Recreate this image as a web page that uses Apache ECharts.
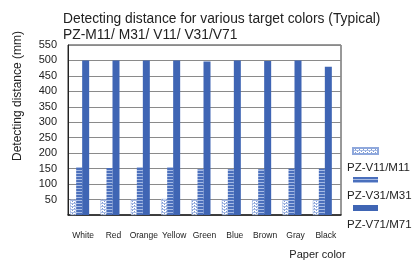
<!DOCTYPE html>
<html>
<head>
<meta charset="utf-8">
<script src="https://cdn.jsdelivr.net/npm/echarts@6/dist/echarts.min.js"></script>
<style>
html, body { margin: 0; padding: 0; background: #fff; }
#chart { width: 415px; height: 265px; }
</style>
</head>
<body>
<div id="chart"></div>
<script>
// paper colours
var categories = ['White', 'Red', 'Orange', 'Yellow', 'Green', 'Blue', 'Brown', 'Gray', 'Black'];
var seriesNames = ['PZ-V11/M11', 'PZ-V31/M31', 'PZ-V71/M71'];
// detecting distance (mm)
var v11 = [50, 50, 50, 52, 50, 50, 50, 48, 48];
var v31 = [155, 152, 155, 155, 148, 148, 148, 150, 150];
var v71 = [500, 500, 500, 500, 497, 500, 498, 500, 480];

var blue = '#3f65b4';
var font = 'Liberation Sans, Arial, sans-serif';

// dotted pattern for V11
function dotPattern() {
	var c = document.createElement('canvas');
	c.width = 4; c.height = 3;
	var ctx = c.getContext('2d');
	ctx.fillStyle = '#ffffff';
	ctx.fillRect(0, 0, 4, 3);
	ctx.fillStyle = '#7d9ad4';
	ctx.fillRect(0, 0, 1, 1);
	ctx.fillRect(2, 1, 1, 1);
	ctx.fillStyle = '#a9bce4';
	ctx.fillRect(0, 2, 4, 1);
	return c;
}

// striped pattern for V31
function stripePattern() {
	var c = document.createElement('canvas');
	c.width = 4; c.height = 3;
	var ctx = c.getContext('2d');
	ctx.fillStyle = '#4a6fbc';
	ctx.fillRect(0, 0, 4, 3);
	ctx.fillStyle = '#a7bbe4';
	ctx.fillRect(0, 2, 4, 1);
	return c;
}

var dotFill = { image: dotPattern(), repeat: 'repeat' };
var stripeFill = { image: stripePattern(), repeat: 'repeat' };

var chart = echarts.init(document.getElementById('chart'), null, { renderer: 'canvas' });

chart.setOption({
	animation: false,
	title: {
		text: 'Detecting distance for various target colors (Typical)\nPZ-M11/ M31/ V11/ V31/V71',
		left: 58,
		top: 6,
		textStyle: { fontFamily: font, fontSize: 13.8, fontWeight: 'normal', color: '#222', lineHeight: 16 }
	},
	grid: {
		left: 68, right: 74, top: 45, bottom: 36,
		show: true, borderColor: '#333', borderWidth: 1
	},
	legend: {
		orient: 'vertical',
		left: 347,
		top: 142,
		itemWidth: 25,
		itemHeight: 6,
		itemGap: 22,
		icon: 'rect',
		data: seriesNames,
		formatter: function () { return ''; },
		textStyle: { fontSize: 1, lineHeight: 6 }
	},
	xAxis: {
		type: 'category',
		data: categories,
		name: 'Paper color',
		nameLocation: 'middle',
		nameGap: 34,
		nameTextStyle: { fontFamily: font, fontSize: 11, color: '#222', padding: [0, 0, 0, 226] },
		axisLine: { lineStyle: { color: '#222', width: 1.5 } },
		axisTick: { inside: true, length: 3, lineStyle: { color: '#222' } },
		axisLabel: { interval: 0, fontFamily: font, fontSize: 8.5, color: '#222', margin: 16 }
	},
	yAxis: {
		type: 'value',
		min: 0,
		max: 550,
		interval: 50,
		name: 'Detecting distance (mm)',
		nameLocation: 'middle',
		nameGap: 44,
		nameTextStyle: { fontFamily: font, fontSize: 12, color: '#222', padding: [0, 0, 0, 68] },
		axisLine: { show: true, lineStyle: { color: '#222' } },
		axisTick: { show: false },
		axisLabel: {
			fontFamily: font, fontSize: 11, color: '#222', margin: 11,
			formatter: function (v) { return v === 0 ? '' : v; }
		},
		splitLine: { lineStyle: { color: '#8a8a8a', width: 1 } }
	},
	series: [
		{
			name: seriesNames[0], type: 'bar', data: v11,
			barWidth: 6, barGap: '0%',
			itemStyle: { color: dotFill, borderColor: '#8fa8dc', borderWidth: 0.5 }
		},
		{
			name: seriesNames[1], type: 'bar', data: v31,
			barWidth: 6, barGap: '0%',
			itemStyle: { color: stripeFill }
		},
		{
			name: seriesNames[2], type: 'bar', data: v71,
			barWidth: 7, barGap: '0%',
			itemStyle: { color: blue }
		},
		{
			// empty slot that pushes each group to the left of its category
			name: 'spacer', type: 'bar', data: [],
			barWidth: 7, barGap: '0%'
		}
	],
	graphic: [
		{ type: 'text', left: 347, top: 162, style: { text: seriesNames[0], font: '11.5px ' + font, fill: '#222' } },
		{ type: 'text', left: 347, top: 190, style: { text: seriesNames[1], font: '11.5px ' + font, fill: '#222' } },
		{ type: 'text', left: 347, top: 219, style: { text: seriesNames[2], font: '11.5px ' + font, fill: '#222' } }
	]
});
</script>
</body>
</html>
